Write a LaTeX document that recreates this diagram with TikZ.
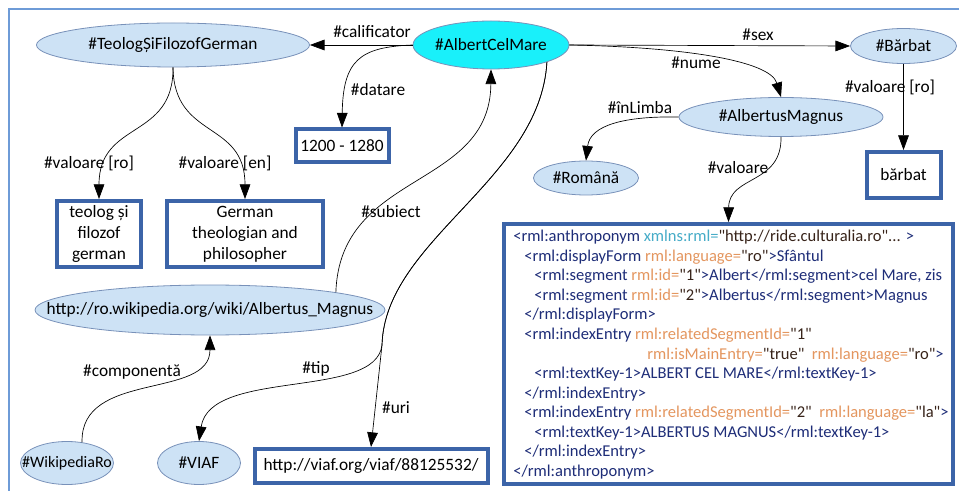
\documentclass[tikz,border=0pt]{standalone}
\usepackage{fontspec}
\setmainfont{Carlito}[Ligatures=TeXOff]
\usetikzlibrary{shapes.geometric,arrows.meta}
\definecolor{framecol}{RGB}{110,155,215}
\definecolor{ellfill}{RGB}{205,226,245}
\definecolor{ellline}{RGB}{120,145,185}
\definecolor{cyanfill}{RGB}{25,240,250}
\definecolor{boxblue}{RGB}{60,100,168}
\definecolor{xtag}{RGB}{30,45,120}
\definecolor{xattr}{RGB}{228,150,95}
\definecolor{xval}{RGB}{55,35,25}
\definecolor{xns}{RGB}{70,172,200}
\newcommand\mytag[1]{\textcolor{xtag}{#1}}
\newcommand\myattr[1]{\textcolor{xattr}{#1}}
\newcommand\myval[1]{\textcolor{xval}{#1}}
\newcommand\myns[1]{\textcolor{xns}{#1}}
\newcommand\zw[1]{\makebox[0pt]{#1}}
\begin{document}
\begin{tikzpicture}[x=0.75pt,y=-0.75pt,
  ell/.style={ellipse, draw=ellline, fill=ellfill, line width=0.6pt, inner sep=0pt, font=\fontsize{13}{15}\selectfont},
  vbox/.style={rectangle, draw=boxblue, line width=3pt, fill=white, inner sep=0pt, align=center, font=\fontsize{13}{15.75}\selectfont},
  lbl/.style={inner sep=0pt, font=\fontsize{13}{15}\selectfont},
  arr/.style={-{Triangle[length=11pt,width=8pt]}, line width=0.5pt},
  xmltxt/.style={anchor=base west, inner sep=0pt, font=\fontsize{12.4}{14}\selectfont, text=xtag}]
\useasboundingbox (0,0) rectangle (959,491);
\clip (0,0) rectangle (959,491);
\draw[draw=framecol, line width=1.5pt] (9,9) rectangle (975,505);

% nodes
\node[ell, minimum width=204.75pt, minimum height=33pt] (teolog) at (173,45) {\zw{\#TeologȘiFilozofGerman}};
\node[ell, fill=cyanfill, minimum width=117pt, minimum height=36pt] (acm) at (491,45) {\zw{\#AlbertCelMare}};
\node[ell, minimum width=79.5pt, minimum height=26.25pt] (barbat) at (903.5,46) {\zw{\#Bărbat}};
\node[ell, minimum width=153pt, minimum height=29.25pt] (am) at (781,117) {\zw{\#AlbertusMagnus}};
\node[ell, minimum width=78.75pt, minimum height=25.5pt] (romana) at (586,178) {\zw{\#Română}};
\node[ell, minimum width=262.5pt, minimum height=37.5pt] (wiki) at (210,310) {\zw{http://ro.wikipedia.org/wiki/Albertus\_Magnus}};
\node[ell, minimum width=69.75pt, minimum height=32.25pt, font=\fontsize{12}{14}\selectfont] (wro) at (67,463) {\zw{\#WikipediaRo}};
\node[ell, minimum width=62.25pt, minimum height=32.25pt] (viaf) at (199,463) {\zw{\#VIAF}};

\node[vbox, minimum width=69.75pt, minimum height=24.75pt] (dat) at (342,146) {1200 - 1280};
\node[vbox, minimum width=63pt, minimum height=49.5pt] (robox) at (99,234) {teolog și\\filozof\\german};
\node[vbox, minimum width=117pt, minimum height=49.5pt] (enbox) at (245,234) {German\\theologian and\\philosopher};
\node[vbox, minimum width=55.5pt, minimum height=34.5pt] (bbox) at (903.5,175) {bărbat};
\node[vbox, minimum width=174.75pt, minimum height=25.5pt] (vbox) at (371,466) {http://viaf.org/viaf/88125532/};
\node[vbox, minimum width=336.75pt, minimum height=195pt] (xml) at (728.5,354) {};

% xml text
\node[xmltxt] (x1) at (513,242) {\mytag{<rml:anthroponym} \myns{xmlns:rml=}\myval{"http://ride.culturalia.ro"...} \mytag{>}};
\node[xmltxt] (x2) at (524,261.5) {<rml:displayForm \myattr{rml:language=}\myval{"ro"}>Sfântul};
\node[xmltxt] (x3) at (534,281) {<rml:segment \myattr{rml:id=}\myval{"1"}>Albert</rml:segment>cel Mare, zis};
\node[xmltxt] (x4) at (534,300.5) {<rml:segment \myattr{rml:id=}\myval{"2"}>Albertus</rml:segment>Magnus};
\node[xmltxt] (x5) at (524,320) {</rml:displayForm>};
\node[xmltxt] (x6) at (524,339.5) {<rml:indexEntry \myattr{rml:relatedSegmentId=}\myval{"1"}};
\node[xmltxt] (x7) at (647,359) {\myattr{rml:isMainEntry=}\myval{"true"}\ \ \myattr{rml:language=}\myval{"ro"}>};
\node[xmltxt] (x8) at (534,378.5) {<rml:textKey-1>ALBERT CEL MARE</rml:textKey-1>};
\node[xmltxt] (x9) at (524,398) {</rml:indexEntry>};
\node[xmltxt] (x10) at (524,417.5) {<rml:indexEntry \myattr{rml:relatedSegmentId=}\myval{"2"}\ \ \myattr{rml:language=}\myval{"la"}>};
\node[xmltxt] (x11) at (534,437) {<rml:textKey-1>ALBERTUS MAGNUS</rml:textKey-1>};
\node[xmltxt] (x12) at (524,456.5) {</rml:indexEntry>};
\node[xmltxt] (x13) at (513,476) {</rml:anthroponym>};

% edges
\draw[arr] (acm.west) -- (teolog.east);
\draw[arr] (acm.west) .. controls (360,47) and (343,60) .. (dat.north);
\draw[arr] (acm.east) -- (barbat.west);
\draw[arr] (acm.east) .. controls (680,47) and (770,60) .. (am.north);
\draw[arr] (am.west) .. controls (625,116) and (590,125) .. (romana.north);
\draw[arr] (am.south) .. controls (782,185) and (729,175) .. (xml.north);
\draw[arr] (barbat.south) -- (bbox.north);
\draw[arr] (teolog.south) .. controls (174,140) and (99,120) .. (robox.north);
\draw[arr] (teolog.south) .. controls (174,140) and (245,120) .. (enbox.north);
\draw[arr] (wiki.8) .. controls (340,170) and (490,190) .. (acm.south);
\coordinate (fork) at (382,345);
\draw[arr] (acm.-17) .. controls (540,180) and (385,240) .. (fork) .. controls (376,400) and (210,368) .. (viaf.north);
\draw[arr] (acm.-17) .. controls (540,180) and (385,240) .. (fork) -- (vbox.north);
\draw[arr] (wro.54) .. controls (80,370) and (210,400) .. (wiki.south);

% labels
\node[lbl] (lcal) at (372,32) {\#calificator};
\node[lbl] (ldat) at (378,90) {\#datare};
\node[lbl] (lsex) at (758,35) {\#sex};
\node[lbl] (lnume) at (696,63) {\#nume};
\node[lbl] (llimba) at (640,108) {\#înLimba};
\node[lbl] (lvalb) at (890,87) {\#valoare [ro]};
\node[lbl] (lvalam) at (738,168) {\#valoare};
\node[lbl] (lvalro) at (89,163) {\#valoare [ro]};
\node[lbl] (lvalen) at (225,163) {\#valoare [en]};
\node[lbl] (lsub) at (391,212) {\#subiect};
\node[lbl] (lcomp) at (132,372) {\#componentă};
\node[lbl] (ltip) at (316,369) {\#tip};
\node[lbl] (luri) at (396,408) {\#uri};
\end{tikzpicture}
\end{document}
